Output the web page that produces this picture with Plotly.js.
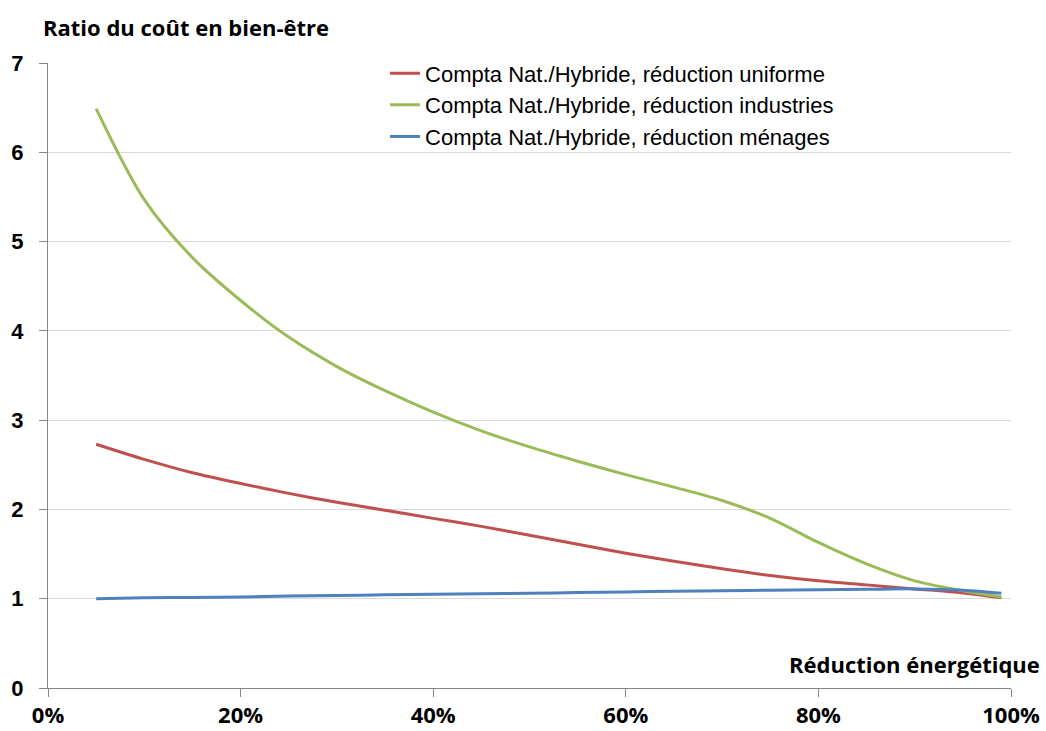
<!DOCTYPE html>
<html>
<head>
<meta charset="utf-8">
<script src="https://cdn.plot.ly/plotly-3.0.1.min.js"></script>
<style>
html,body{margin:0;padding:0;background:#fff;}
#chart{width:1046px;height:731px;}
</style>
</head>
<body>
<div id="chart"></div>
<script>
// Réduction énergétique (%)
const reduction = [5, 10, 15, 20, 25, 30, 35, 40, 45, 50, 55, 60, 65, 70, 75, 80, 85, 90, 95, 99];

const seriesNames = [
  "Compta Nat./Hybride, réduction uniforme",
  "Compta Nat./Hybride, réduction industries",
  "Compta Nat./Hybride, réduction ménages"
];

const uniforme   = [2.73, 2.56, 2.41, 2.29, 2.18, 2.08, 1.99, 1.90, 1.81, 1.71, 1.61, 1.51, 1.42, 1.335, 1.26, 1.20, 1.155, 1.11, 1.065, 1.01];
const industries = [6.49, 5.47, 4.82, 4.34, 3.93, 3.60, 3.33, 3.09, 2.88, 2.70, 2.54, 2.39, 2.25, 2.10, 1.90, 1.63, 1.39, 1.20, 1.09, 1.02];
const menages    = [1.00, 1.01, 1.015, 1.02, 1.03, 1.035, 1.045, 1.05, 1.055, 1.06, 1.07, 1.075, 1.085, 1.09, 1.095, 1.10, 1.105, 1.11, 1.095, 1.06];

const xTicks = [0, 20, 40, 60, 80, 100];
const xTickLabels = ["0%", "20%", "40%", "60%", "80%", "100%"];
const yTicks = [0, 1, 2, 3, 4, 5, 6, 7];

const yTitle = "Ratio du coût en bien-être";
const xTitle = "Réduction énergétique";

const colors = ["#C0504D", "#9BBB59", "#4F81BD"];
const values = [uniforme, industries, menages];

const traces = values.map((v, i) => ({
  x: reduction,
  y: v,
  type: "scatter",
  mode: "lines",
  name: seriesNames[i],
  line: {color: colors[i], width: 3, shape: "spline", smoothing: 0.9}
}));

const layout = {
  width: 1046,
  height: 731,
  margin: {l: 48, r: 35, t: 63, b: 43},
  paper_bgcolor: "#ffffff",
  plot_bgcolor: "#ffffff",
  showlegend: true,
  legend: {
    x: 0.35, y: 1.017, xanchor: "left", yanchor: "top",
    bgcolor: "rgba(0,0,0,0)",
    font: {family: "Liberation Sans, Arial, sans-serif", size: 22, color: "#000"},
    tracegroupgap: 0,
    itemwidth: 30
  },
  xaxis: {
    range: [0, 100],
    tickvals: xTicks,
    ticktext: xTickLabels,
    showgrid: false,
    zeroline: false,
    showline: true,
    linecolor: "#868686",
    linewidth: 1,
    ticks: "outside",
    ticklen: 8,
    tickcolor: "#868686",
    tickfont: {family: "Open Sans, sans-serif", size: 22, color: "#000", weight: "bold"},
    fixedrange: true
  },
  yaxis: {
    range: [0, 7],
    tickvals: yTicks,
    showgrid: true,
    gridcolor: "#D9D9D9",
    gridwidth: 1,
    zeroline: false,
    showline: true,
    linecolor: "#868686",
    linewidth: 1,
    ticks: "outside",
    ticklen: 8,
    tickcolor: "#868686",
    ticklabelstandoff: 11,
    tickfont: {family: "Liberation Sans, Arial, sans-serif", size: 22, color: "#000", weight: "bold"},
    fixedrange: true
  },
  annotations: [
    {
      text: yTitle, xref: "paper", yref: "paper",
      x: -0.007, y: 1, xanchor: "left", yanchor: "bottom", yshift: 19,
      showarrow: false,
      font: {family: "Open Sans, sans-serif", size: 22, color: "#000", weight: "bold"}
    },
    {
      text: xTitle, xref: "paper", yref: "paper",
      x: 1.032, y: 0, xanchor: "right", yanchor: "bottom", yshift: 7,
      showarrow: false,
      font: {family: "Open Sans, sans-serif", size: 22, color: "#000", weight: "bold"}
    }
  ]
};

Plotly.newPlot("chart", traces, layout, {displayModeBar: false, staticPlot: true});
</script>
</body>
</html>
